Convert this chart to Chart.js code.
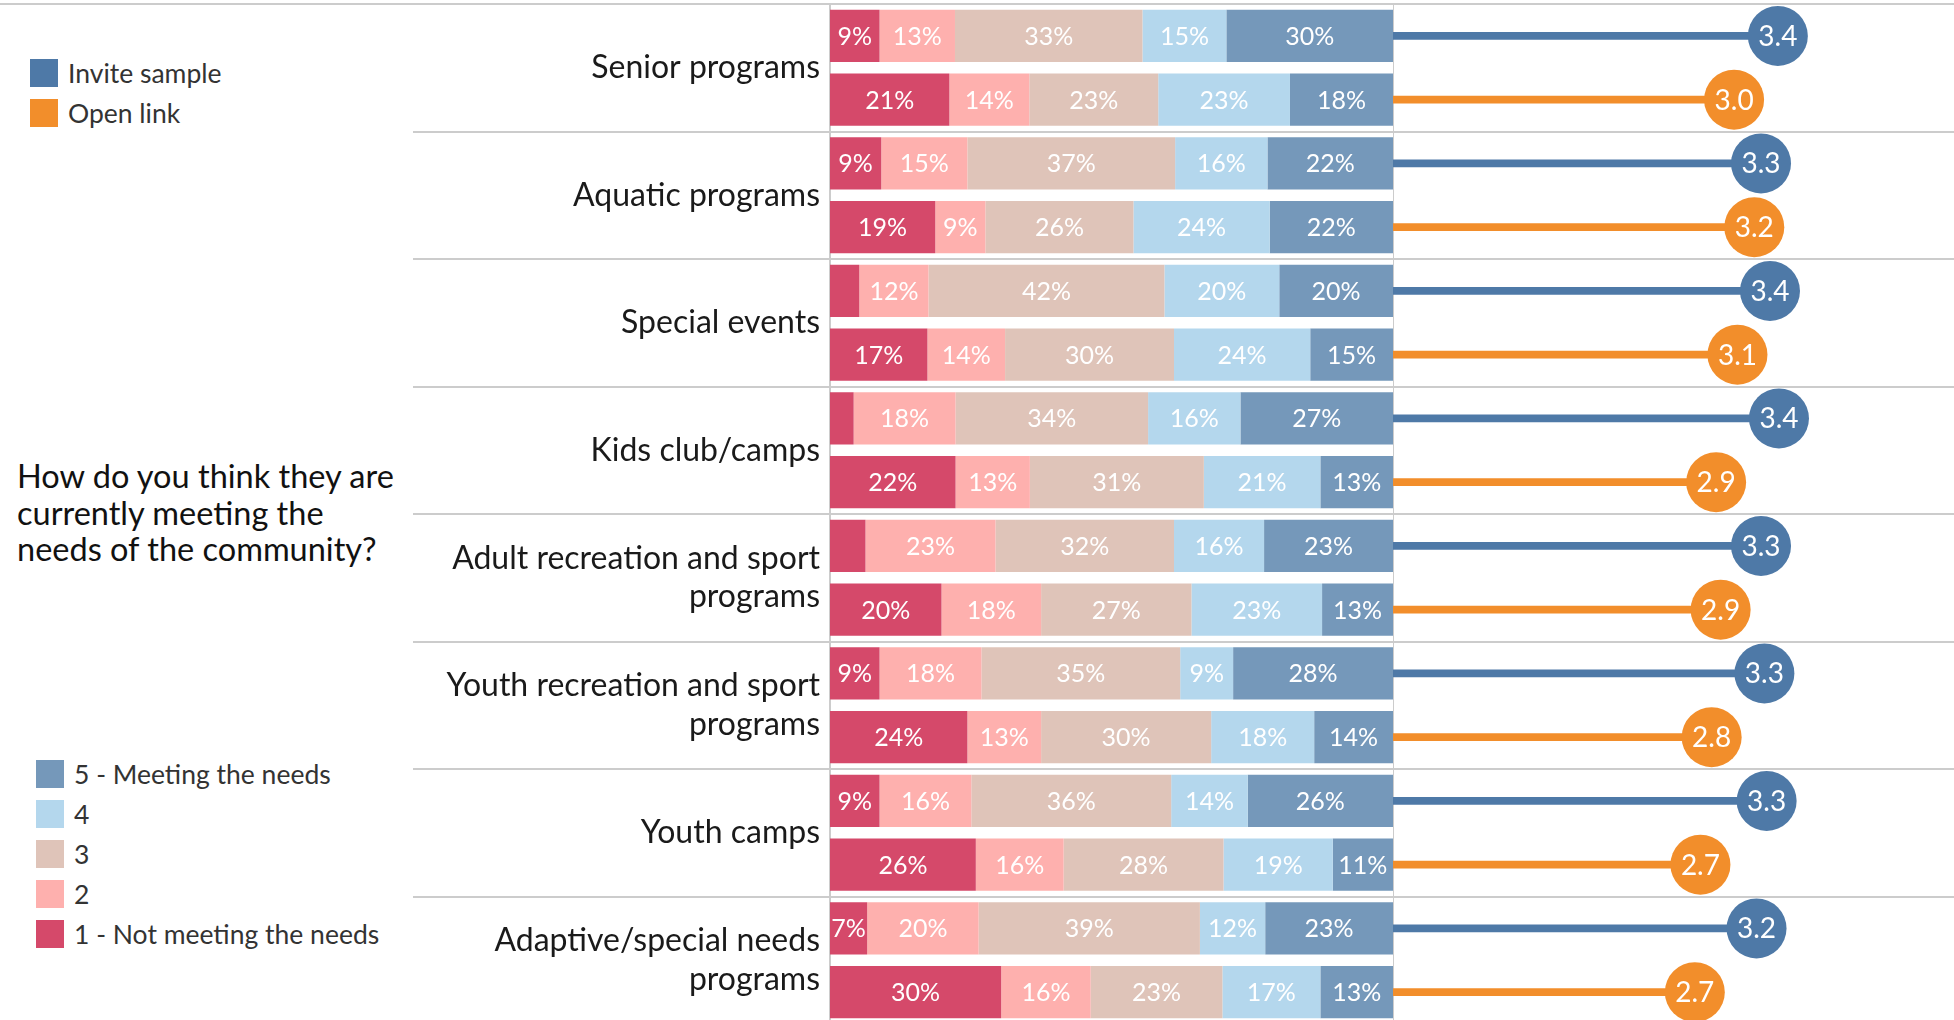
<!DOCTYPE html>
<html lang="en">
<head>
<meta charset="UTF-8">
<title>Meeting the needs of the community</title>
<style>
    * {
        margin: 0;
        padding: 0;
        box-sizing: border-box;
    }

    body {
        width: 1954px;
        height: 1020px;
        overflow: hidden;
        position: relative;
        background: #fff;
        font-family: Lato, 'Open Sans', sans-serif;
        color: #333;
    }

    .top-rule {
        position: absolute;
        left: 0;
        top: 3px;
        width: 420px;
        height: 2px;
        background: #cccccc;
    }

    canvas {
        position: absolute;
        top: 0;
    }

    #bars { left: 0; }
    #dots { left: 1393px; }

    .legend {
        position: absolute;
        font-size: 26.5px;
    }

    .legend .item {
        display: flex;
        align-items: center;
        height: 28px;
        margin-bottom: 12px;
    }

    .legend .swatch {
        width: 28px;
        height: 28px;
        margin-right: 10px;
    }

    #sampleLegend { left: 30px; top: 59px; }
    #levelLegend { left: 36px; top: 760px; }

    .question {
        position: absolute;
        left: 17px;
        top: 458px;
        font-size: 32.5px;
        line-height: 36.5px;
        color: #111;
    }
</style>
</head>
<body>
    <div class="top-rule"></div>
    <div class="legend" id="sampleLegend"></div>
    <div class="question">How do you think they are<br>currently meeting the<br>needs of the community?</div>
    <div class="legend" id="levelLegend"></div>

    <canvas id="bars" width="1393" height="1030"></canvas>
    <canvas id="dots" width="561" height="1030"></canvas>

    <script src="https://cdn.jsdelivr.net/npm/chart.js@4.4.0/dist/chart.umd.min.js"></script>
    <script>
        // Programs (one group of two rows each: invite sample, open link)
        const programs = [
            ['Senior programs'],
            ['Aquatic programs'],
            ['Special events'],
            ['Kids club/camps'],
            ['Adult recreation and sport', 'programs'],
            ['Youth recreation and sport', 'programs'],
            ['Youth camps'],
            ['Adaptive/special needs', 'programs']
        ];

        // Share of answers per rating level (%), invite sample
        const invite1 = [8.8, 9.1, 5.2, 4.2, 6.3, 8.8, 8.8, 6.6];
        const invite2 = [13.4, 15.3, 12.3, 18.1, 23.1, 18.1, 16.3, 19.8];
        const invite3 = [33.3, 36.9, 41.9, 34.2, 31.7, 35.3, 35.5, 39.3];
        const invite4 = [14.9, 16.4, 20.4, 16.4, 16.0, 9.4, 13.6, 11.6];
        const invite5 = [29.6, 22.3, 20.2, 27.1, 22.9, 28.4, 25.8, 22.7];

        // Share of answers per rating level (%), open link
        const open1 = [21.2, 18.7, 17.3, 22.3, 19.8, 24.4, 25.9, 30.4];
        const open2 = [14.2, 8.9, 13.8, 13.2, 17.7, 13.1, 15.6, 15.9];
        const open3 = [22.9, 26.3, 30.0, 30.9, 26.7, 30.2, 28.4, 23.4];
        const open4 = [23.4, 24.2, 24.2, 20.7, 23.2, 18.3, 19.4, 17.4];
        const open5 = [18.3, 21.9, 14.7, 12.9, 12.6, 14.0, 10.7, 12.9];

        // Average rating
        const inviteMean = [3.43, 3.28, 3.36, 3.44, 3.28, 3.31, 3.33, 3.24];
        const openMean = [3.04, 3.22, 3.07, 2.88, 2.92, 2.84, 2.74, 2.69];

        const samples = ['Invite sample', 'Open link'];
        const sampleColors = ['#4e79a7', '#f28e2b'];
        const levelLabels = ['1 - Not meeting the needs', '2', '3', '4', '5 - Meeting the needs'];
        const levelColors = ['#d5496a', '#feb0ae', '#dfc4b9', '#b4d7ed', '#7598ba'];

        const inviteLevels = [invite1, invite2, invite3, invite4, invite5];
        const openLevels = [open1, open2, open3, open4, open5];

        // two rows per program
        function interleave(a, b) {
            const out = [];
            a.forEach((v, i) => out.push(v, b[i]));
            return out;
        }
        const rowIds = [];
        programs.forEach((p, i) => rowIds.push(i + '-invite', i + '-open'));
        const rowColors = interleave(programs.map(() => sampleColors[0]), programs.map(() => sampleColors[1]));

        // Legends
        function addLegend(el, labels, colors) {
            labels.forEach((text, i) => {
                const item = document.createElement('div');
                item.className = 'item';
                item.innerHTML = '<span class="swatch" style="background:' + colors[i] + '"></span>' + text;
                el.appendChild(item);
            });
        }
        addLegend(document.getElementById('sampleLegend'), samples, sampleColors);
        addLegend(document.getElementById('levelLegend'), levelLabels.slice().reverse(), levelColors.slice().reverse());

        const separatorColor = '#cccccc';

        // Percent labels inside segments
        const segmentLabels = {
            id: 'segmentLabels',
            afterDatasetsDraw(chart) {
                const ctx = chart.ctx;
                ctx.save();
                ctx.font = '25px Lato';
                ctx.fillStyle = '#ffffff';
                ctx.textAlign = 'center';
                ctx.textBaseline = 'middle';
                chart.data.datasets.forEach((ds, k) => {
                    chart.getDatasetMeta(k).data.forEach((bar, i) => {
                        const v = ds.data[i];
                        if (v < 6.5) return;
                        const c = bar.getCenterPoint();
                        ctx.fillText(Math.round(v) + '%', c.x, c.y + 1);
                    });
                });
                ctx.restore();
            }
        };

        new Chart(document.getElementById('bars'), {
            type: 'bar',
            data: {
                labels: rowIds,
                datasets: levelLabels.map((label, k) => ({
                    label: label,
                    data: interleave(inviteLevels[k], openLevels[k]),
                    backgroundColor: levelColors[k],
                    borderWidth: 0,
                    barPercentage: 1,
                    categoryPercentage: 0.816
                }))
            },
            options: {
                indexAxis: 'y',
                responsive: false,
                animation: false,
                layout: { autoPadding: false, padding: { top: 4, bottom: 6, left: 0, right: 0 } },
                plugins: {
                    legend: { display: false },
                    tooltip: { enabled: false }
                },
                scales: {
                    x: { stacked: true, min: 0, max: 100, display: false },
                    y: { stacked: true, display: false },
                    groups: {
                        axis: 'y',
                        type: 'category',
                        labels: programs,
                        position: 'left',
                        offset: true,
                        grid: { offset: true, color: separatorColor, lineWidth: 2, drawTicks: true, tickLength: 417 },
                        border: { display: true, color: separatorColor, width: 2 },
                        ticks: {
                            autoSkip: false,
                            padding: -407,
                            color: '#1a1a1a',
                            font: { family: 'Lato', size: 32, lineHeight: 1.2 }
                        },
                        afterFit: scale => { scale.width = 830; }
                    }
                }
            },
            plugins: [segmentLabels]
        });

        // Mean labels inside the circles
        const meanLabels = {
            id: 'meanLabels',
            afterDatasetsDraw(chart) {
                const ctx = chart.ctx;
                const ds = chart.data.datasets[0];
                ctx.save();
                ctx.font = '28px Lato';
                ctx.fillStyle = '#ffffff';
                ctx.textAlign = 'center';
                ctx.textBaseline = 'middle';
                chart.getDatasetMeta(0).data.forEach((pt, i) => {
                    ctx.fillText(ds.data[i].toFixed(1), pt.x, pt.y + 1);
                });
                ctx.restore();
            }
        };

        const means = interleave(inviteMean, openMean);

        new Chart(document.getElementById('dots'), {
            type: 'bar',
            data: {
                labels: rowIds,
                datasets: [
                    {
                        type: 'line',
                        data: means,
                        showLine: false,
                        pointRadius: 30,
                        pointHoverRadius: 30,
                        pointBorderWidth: 0,
                        pointBackgroundColor: rowColors,
                        clip: false,
                        order: 0
                    },
                    {
                        type: 'bar',
                        data: means,
                        backgroundColor: rowColors,
                        barThickness: 7,
                        borderWidth: 0,
                        order: 1
                    }
                ]
            },
            options: {
                indexAxis: 'y',
                responsive: false,
                animation: false,
                layout: { autoPadding: false, padding: { top: 4, bottom: 6, left: 0, right: 0 } },
                plugins: {
                    legend: { display: false },
                    tooltip: { enabled: false }
                },
                scales: {
                    x: { min: 0, max: 5, display: false },
                    y: { display: false },
                    groups: {
                        axis: 'y',
                        type: 'category',
                        labels: programs,
                        position: 'left',
                        offset: true,
                        grid: { offset: true, color: separatorColor, lineWidth: 2, drawTicks: false },
                        border: { display: true, color: separatorColor, width: 2 },
                        ticks: { display: false }
                    }
                }
            },
            plugins: [meanLabels]
        });
    </script>
</body>
</html>
